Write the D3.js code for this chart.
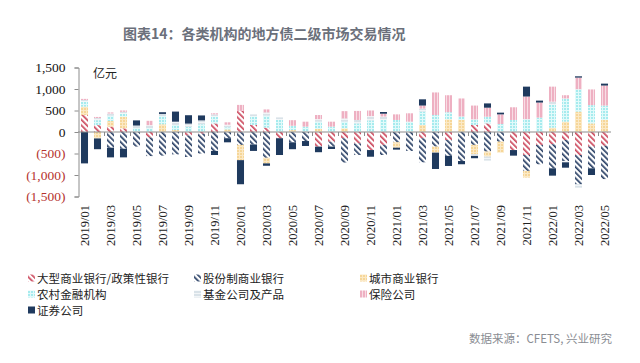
<!DOCTYPE html>
<html>
<head>
<meta charset="utf-8">
<script src="https://cdn.jsdelivr.net/npm/d3@7"></script>
<style>
  html, body { margin: 0; padding: 0; background: #fff; }
  svg { display: block; }
</style>
</head>
<body>
<div id="chart"></div>
<script>
// months on the x axis
const months = [
  '2019/01','2019/02','2019/03','2019/04','2019/05','2019/06','2019/07','2019/08','2019/09','2019/10','2019/11','2019/12',
  '2020/01','2020/02','2020/03','2020/04','2020/05','2020/06','2020/07','2020/08','2020/09','2020/10','2020/11','2020/12',
  '2021/01','2021/02','2021/03','2021/04','2021/05','2021/06','2021/07','2021/08','2021/09','2021/10','2021/11','2021/12',
  '2022/01','2022/02','2022/03','2022/04','2022/05'
];

const seriesNames = ['大型商业银行/政策性银行', '股份制商业银行', '城市商业银行', '农村金融机构', '基金公司及产品', '保险公司', '证券公司'];

// net purchases, 亿元
const largeBanks = [395,160,125,85,0,-125,0,0,-80,-40,200,0, 490,165,100,-145,0,0,-340,-225,-145,-265,-420,-300, 0,0,-145,0,-185,0,165,200,0,-420,-535,-300, -285,-185,-535,-340,-320];
const jointStock = [0,0,-365,-390,-340,-435,-550,-520,-500,-460,-440,-145, -300,-290,-600,0,-240,-210,0,-115,-565,-270,0,-235, -240,-440,-560,-340,-370,-675,-300,-455,-225,0,-370,-450, -560,-490,-680,-505,-775];
const cityBanks = [195,-150,130,270,0,0,180,45,0,0,0,60, -355,0,-130,0,45,0,70,0,85,0,0,0, -125,0,165,-140,295,280,-215,-115,-255,0,-155,0, 100,240,475,200,280];
const ruralBanks = [115,115,125,75,90,90,190,120,120,180,155,50, 0,200,280,285,100,125,170,125,155,200,270,280, 280,240,310,395,165,80,130,155,185,280,300,335, 530,540,520,425,335];
const funds = [40,50,50,40,60,70,50,75,75,90,55,60, 0,45,75,55,0,0,60,0,75,80,100,80, 0,0,70,0,0,0,-40,-95,0,0,0,0, 75,-30,-80,0,0];
const insurers = [25,25,25,30,0,100,0,0,0,0,25,55, 140,0,70,0,130,115,95,115,170,210,130,65, 130,195,70,525,395,420,320,210,225,295,525,350, 350,75,270,365,465];
const securities = [-730,-250,-225,-200,120,0,40,235,195,115,-95,-95, -560,-150,-55,-390,-160,-115,-130,-55,0,0,-155,40, -45,0,145,-380,-235,-75,-55,100,40,-130,230,45, -170,-125,30,-155,45];

const yTicks = [-1500, -1000, -500, 0, 500, 1000, 1500];

const W = 640, H = 363;
const svg = d3.select('#chart').append('svg')
  .attr('width', W).attr('height', H)
  .attr('viewBox', `0 0 ${W} ${H}`);

// patterns
const defs = svg.append('defs');
function hatch(id, color) {
  const p = defs.append('pattern').attr('id', id)
    .attr('patternUnits', 'userSpaceOnUse')
    .attr('width', 4).attr('height', 4)
    .attr('patternTransform', 'rotate(-45)');
  p.append('rect').attr('width', 4).attr('height', 4).attr('fill', '#fff');
  p.append('rect').attr('x', 0).attr('width', 1.7).attr('height', 4).attr('fill', color);
}
hatch('p-large', '#cc4a5e');
hatch('p-joint', '#2b4166');

function gridPat(id, bg, line, vert, horiz) {
  const p = defs.append('pattern').attr('id', id)
    .attr('patternUnits', 'userSpaceOnUse')
    .attr('width', 3).attr('height', 3);
  p.append('rect').attr('width', 3).attr('height', 3).attr('fill', bg);
  if (vert) p.append('rect').attr('x', 2).attr('width', 1).attr('height', 3).attr('fill', line);
  if (horiz) p.append('rect').attr('y', 2).attr('width', 3).attr('height', 1).attr('fill', line);
}
gridPat('p-city', '#f6d698', '#fbe9c6', true, true);
gridPat('p-rural', '#a6ebee', '#e2fafa', true, true);
gridPat('p-fund', '#d9e2e8', '#f2f5f7', false, true);
gridPat('p-ins', '#eeb0c2', '#f8dde5', true, false);

const fills = ['url(#p-large)', 'url(#p-joint)', 'url(#p-city)', 'url(#p-rural)', 'url(#p-fund)', 'url(#p-ins)', '#1f3a5e'];

// data table for the stack
const seriesData = [largeBanks, jointStock, cityBanks, ruralBanks, funds, insurers, securities];
const keys = d3.range(seriesData.length);
const rows = months.map((m, i) => {
  const r = { month: m };
  keys.forEach(k => { r[k] = seriesData[k][i]; });
  return r;
});

const stack = d3.stack().keys(keys).offset(d3.stackOffsetDiverging);
const layers = stack(rows);

// scales
const x = d3.scaleBand().domain(months).range([78, 611]).paddingInner(0.46).paddingOuter(0.23);
const y = d3.scaleLinear().domain([-1500, 1500]).range([196.5, 67.5]);

// bars
svg.append('g').selectAll('g.layer')
  .data(layers)
  .join('g')
  .attr('fill', d => fills[d.key])
  .selectAll('rect')
  .data(d => d)
  .join('rect')
  .attr('x', d => x(d.data.month))
  .attr('width', x.bandwidth())
  .attr('y', d => y(Math.max(d[0], d[1])))
  .attr('height', d => Math.abs(y(d[0]) - y(d[1])));

// zero line with ticks at labelled months
const step = x.step();
svg.append('line')
  .attr('x1', 78).attr('x2', 611)
  .attr('y1', y(0)).attr('y2', y(0))
  .attr('stroke', '#8c8c8c').attr('stroke-width', 1);
svg.append('g').selectAll('line')
  .data(months.filter((m, i) => i % 2 === 0 && i > 0))
  .join('line')
  .attr('x1', d => x(d) + x.bandwidth() / 2 - step / 2 + 0.5)
  .attr('x2', d => x(d) + x.bandwidth() / 2 - step / 2 + 0.5)
  .attr('y1', y(0)).attr('y2', y(0) + 4)
  .attr('stroke', '#8c8c8c');

// y axis
const yAxis = svg.append('g')
  .attr('transform', 'translate(78.5,0)')
  .call(d3.axisLeft(y).tickValues(yTicks).tickSize(4).tickPadding(9)
    .tickFormat(v => v < 0 ? `(${d3.format(',')(-v)})` : d3.format(',')(v)));
yAxis.select('.domain').attr('stroke', '#8c8c8c');
yAxis.selectAll('.tick line').attr('stroke', '#8c8c8c');
yAxis.selectAll('.tick text')
  .attr('fill', d => d < 0 ? '#b5322e' : '#111')
  .style('font-family', '"Liberation Serif", "Times New Roman", serif')
  .style('font-size', '13.5px');

// x labels, every other month, rotated
svg.append('g').selectAll('text')
  .data(months.filter((m, i) => i % 2 === 0))
  .join('text')
  .attr('transform', d => `translate(${x(d) + x.bandwidth() / 2 + 4},205) rotate(-90)`)
  .attr('text-anchor', 'end')
  .style('font-family', '"Liberation Serif", "Times New Roman", serif')
  .style('font-size', '12.5px')
  .attr('fill', '#222')
  .text(d => d);

// unit
svg.append('text')
  .attr('x', 93).attr('y', 78)
  .style('font-family', '"Noto Sans CJK SC", sans-serif')
  .style('font-size', '12px')
  .attr('fill', '#222')
  .text('亿元');

// title
svg.append('text')
  .attr('x', 123).attr('y', 39)
  .style('font-family', '"Noto Sans CJK SC", sans-serif')
  .style('font-size', '14px')
  .style('font-weight', 700)
  .attr('fill', '#6b707b')
  .text('图表14：各类机构的地方债二级市场交易情况');

// legend
const legendPos = [[28, 278], [194, 278], [360, 278], [28, 294], [194, 294], [360, 294], [28, 310]];
const lg = svg.append('g').selectAll('g')
  .data(seriesNames)
  .join('g')
  .attr('transform', (d, i) => `translate(${legendPos[i][0]},${legendPos[i][1]})`);
lg.append('rect')
  .attr('x', 0).attr('y', -3.5).attr('width', 7).attr('height', 7)
  .attr('fill', (d, i) => fills[i]);
lg.append('text')
  .attr('x', 9).attr('y', 4.5)
  .style('font-family', '"Noto Sans CJK SC", sans-serif')
  .style('font-size', '11.5px')
  .style('letter-spacing', '0.1px')
  .attr('fill', '#222')
  .text(d => d);

// source
svg.append('text')
  .attr('x', 612).attr('y', 343)
  .attr('text-anchor', 'end')
  .style('font-family', '"Noto Sans CJK SC", sans-serif')
  .style('font-size', '11.5px')
  .attr('fill', '#8a8d93')
  .text('数据来源：CFETS, 兴业研究');
</script>
</body>
</html>
